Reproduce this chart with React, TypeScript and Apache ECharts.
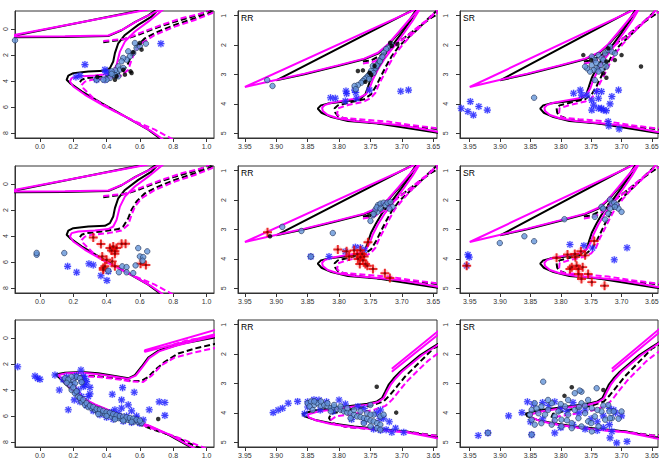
import React, { useEffect, useRef } from "react";
import * as echarts from "echarts";

type P = [number, number];

// ---------- Axis ticks ----------
const colorTicks = [0, 0.2, 0.4, 0.6, 0.8, 1.0];
const magTicks = [0, 2, 4, 6, 8];
const teffTicks = [3.95, 3.9, 3.85, 3.8, 3.75, 3.7, 3.65];
const loggTicks = [1, 2, 3, 4, 5];
const panelLabels = ["", "RR", "SR", "", "RR", "SR", "", "RR", "SR"];

// ---------- Isochrones: colour-magnitude (rows 1-2) ----------
const blackSolidA: P[] = [[0.73,8.5],[0.65,7.74],[0.51,6.72],[0.37,5.70],[0.25,4.80],[0.18,4.16],[0.16,3.91],[0.17,3.58],[0.20,3.40],[0.29,3.27],[0.39,3.22],[0.42,3.01],[0.44,2.50],[0.45,1.86],[0.47,1.10],[0.51,0.46],[0.59,-0.31],[0.67,-0.95],[0.71,-1.5]];
const blackHbA: P[] = [[0.63,-1.5],[-0.2,0.63],[0.15,0.62],[0.41,0.55],[0.49,0.10],[0.57,-0.52],[0.65,-1.05],[0.70,-1.5]];
const blackDashedA: P[] = [[0.24,4.09],[0.25,3.9],[0.28,3.78],[0.37,3.65],[0.47,3.47],[0.50,3.27],[0.53,2.63],[0.55,1.99],[0.58,1.35],[0.63,0.72],[0.71,0.20],[0.81,-0.31],[0.93,-0.82],[1.01,-1.2],[1.06,-1.5]];
const blackDashedHbA: P[] = [[0.38,1.02],[0.49,0.84],[0.59,0.46],[0.69,-0.05],[0.81,-0.56],[0.95,-1.07],[1.03,-1.5]];
const magentaSolidA: P[] = [[0.74,8.5],[0.67,7.87],[0.53,6.85],[0.39,5.95],[0.27,5.06],[0.20,4.42],[0.18,4.04],[0.19,3.78],[0.23,3.65],[0.33,3.58],[0.41,3.47],[0.44,3.27],[0.46,2.76],[0.48,1.74],[0.51,0.97],[0.57,0.20],[0.65,-0.56],[0.74,-1.5]];
const magentaHbA: P[] = [[0.65,-1.5],[-0.2,0.58],[0.15,0.57],[0.41,0.50],[0.495,0.05],[0.58,-0.58],[0.66,-1.1],[0.72,-1.5]];
const magentaDashedA: P[] = [[0.80,8.5],[0.69,7.74],[0.57,7.10],[0.45,6.33],[0.33,5.44],[0.26,4.55],[0.25,4.30],[0.27,4.05],[0.31,3.91],[0.41,3.78],[0.49,3.58],[0.53,3.14],[0.55,2.38],[0.57,1.74],[0.61,1.10],[0.69,0.46],[0.81,-0.18],[0.93,-0.69],[1.03,-1.2],[1.07,-1.5]];
const magentaDashedHbA: P[] = [[0.38,0.92],[0.51,0.77],[0.61,0.26],[0.73,-0.31],[0.85,-0.82],[0.97,-1.2],[1.02,-1.5]];

// ---------- Isochrones: Teff-logg (rows 1-2) ----------
const blackSolidB: P[] = [[3.63,5.0],[3.643,4.98],[3.738,4.67],[3.786,4.58],[3.812,4.45],[3.828,4.30],[3.834,4.16],[3.829,4.05],[3.818,3.99],[3.791,3.92],[3.767,3.84],[3.758,3.67],[3.754,3.43],[3.749,3.11],[3.741,2.79],[3.731,2.43],[3.717,2.06],[3.701,1.61],[3.686,1.16],[3.676,0.8]];
const blackHbB: P[] = [[3.682,0.8],[3.900,3.20],[3.855,2.99],[3.802,2.71],[3.760,2.48],[3.738,2.29],[3.722,2.0],[3.706,1.62],[3.690,1.22],[3.677,0.8]];
const blackDashedB: P[] = [[3.63,4.88],[3.69,4.76],[3.75,4.64],[3.786,4.53],[3.802,4.41],[3.806,4.30],[3.807,4.15],[3.802,4.05],[3.781,3.94],[3.760,3.84],[3.749,3.67],[3.741,3.39],[3.733,3.05],[3.725,2.71],[3.716,2.37],[3.704,2.03],[3.690,1.75],[3.675,1.46],[3.659,1.12],[3.643,0.8]];
const blackDashedHbB: P[] = [[3.762,2.56],[3.749,2.52],[3.733,2.34],[3.717,2.06],[3.696,1.75],[3.675,1.41],[3.653,1.07],[3.636,0.85]];
const magentaSolidB: P[] = [[3.63,4.97],[3.643,4.944],[3.664,4.865],[3.685,4.786],[3.706,4.718],[3.738,4.65],[3.775,4.58],[3.802,4.49],[3.818,4.38],[3.826,4.24],[3.827,4.13],[3.823,4.04],[3.812,3.96],[3.791,3.88],[3.770,3.81],[3.757,3.67],[3.751,3.45],[3.746,3.16],[3.738,2.82],[3.728,2.48],[3.714,2.09],[3.698,1.63],[3.683,1.18],[3.672,0.8]];
const magentaHbB: P[] = [[3.680,0.8],[3.950,3.425],[3.908,3.22],[3.855,2.97],[3.802,2.69],[3.760,2.46],[3.738,2.26],[3.722,1.97],[3.706,1.58],[3.690,1.18],[3.674,0.8]];
const magentaDashedB: P[] = [[3.63,4.85],[3.643,4.83],[3.685,4.72],[3.722,4.60],[3.770,4.52],[3.797,4.47],[3.803,4.355],[3.802,4.15],[3.786,4.04],[3.760,3.92],[3.750,3.81],[3.742,3.62],[3.736,3.31],[3.728,2.99],[3.720,2.65],[3.711,2.31],[3.698,1.97],[3.685,1.66],[3.669,1.35],[3.653,1.01],[3.643,0.8]];
const magentaDashedHbB: P[] = [[3.762,2.63],[3.744,2.56],[3.728,2.35],[3.712,2.03],[3.690,1.66],[3.669,1.29],[3.648,0.95],[3.63,0.82]];

// ---------- Isochrones: colour-magnitude (row 3) ----------
const blackSolidC: P[] = [[0.92,8.5],[0.77,7.43],[0.65,6.74],[0.57,6.41],[0.45,5.78],[0.33,5.14],[0.25,4.63],[0.19,4.0],[0.13,3.23],[0.094,2.80],[0.15,2.67],[0.25,2.62],[0.35,2.72],[0.45,2.93],[0.53,3.10],[0.57,2.85],[0.61,2.21],[0.65,1.50],[0.71,0.99],[0.81,0.56],[0.93,0.18],[1.06,-0.22]];
const blackHbC: P[] = [[0.72,0.94],[0.85,0.45],[1.06,-0.05]];
const blackDashedC: P[] = [[0.97,8.5],[0.80,7.56],[0.64,6.85],[0.44,5.9],[0.32,5.2],[0.24,4.5],[0.20,3.7],[0.19,3.05],[0.25,2.9],[0.35,2.95],[0.45,3.1],[0.55,3.3],[0.61,3.3],[0.65,3.0],[0.69,2.47],[0.75,1.83],[0.83,1.20],[0.93,0.81],[1.06,0.43]];
const magentaSolidC: P[] = [[0.93,8.5],[0.78,7.45],[0.66,6.76],[0.57,6.38],[0.45,5.75],[0.33,5.10],[0.25,4.58],[0.19,3.95],[0.14,3.25],[0.11,2.85],[0.16,2.72],[0.25,2.68],[0.35,2.78],[0.45,2.98],[0.53,3.15],[0.575,2.9],[0.615,2.25],[0.655,1.55],[0.715,1.03],[0.815,0.6],[0.935,0.22],[1.06,-0.17]];
const magentaHbC: P[] = [[1.06,-0.65],[0.63,0.94],[0.63,1.07],[1.06,-0.32]];
const magentaDashedC: P[] = [[1.0,8.5],[0.81,7.56],[0.65,6.85],[0.45,5.9],[0.33,5.2],[0.25,4.5],[0.21,3.7],[0.20,3.1],[0.26,2.95],[0.35,3.0],[0.45,3.15],[0.55,3.35],[0.62,3.38],[0.67,2.9],[0.73,2.1],[0.81,1.5],[0.93,1.1],[1.06,0.75]];
const magentaDashedHbC: P[] = [[0.75,0.7],[0.88,0.2],[1.06,-0.2]];

// ---------- Isochrones: Teff-logg (row 3) ----------
const blackSolidD: P[] = [[3.63,4.86],[3.6476,4.82],[3.6923,4.63],[3.7343,4.55],[3.776,4.46],[3.813,4.35],[3.8395,4.23],[3.855,4.12],[3.858,4.03],[3.8395,3.92],[3.7975,3.81],[3.755,3.69],[3.7396,3.61],[3.7317,3.50],[3.7265,3.28],[3.7212,3.05],[3.7133,2.83],[3.7028,2.60],[3.687,2.32],[3.6712,2.04],[3.650,1.75],[3.63,1.5]];
const blackDashedD: P[] = [[3.63,4.78],[3.65,4.76],[3.70,4.62],[3.75,4.55],[3.79,4.47],[3.81,4.35],[3.816,4.18],[3.813,4.03],[3.787,3.90],[3.75,3.76],[3.729,3.61],[3.719,3.39],[3.708,3.11],[3.695,2.77],[3.679,2.43],[3.663,2.09],[3.65,1.81],[3.63,1.6]];
const magentaSolidD: P[] = [[3.63,4.9],[3.6476,4.85],[3.6923,4.66],[3.7343,4.58],[3.776,4.49],[3.813,4.38],[3.836,4.26],[3.848,4.15],[3.85,4.06],[3.835,3.96],[3.7975,3.84],[3.755,3.72],[3.738,3.63],[3.729,3.50],[3.724,3.28],[3.718,3.05],[3.710,2.83],[3.70,2.60],[3.684,2.32],[3.668,2.04],[3.647,1.75],[3.63,1.52]];
const magentaHbD: P[] = [[3.716,2.50],[3.63,1.01],[3.63,1.13],[3.716,2.60]];
const magentaDashedD: P[] = [[3.63,4.80],[3.6476,4.77],[3.69,4.66],[3.74,4.57],[3.787,4.48],[3.807,4.39],[3.813,4.24],[3.805,4.12],[3.776,4.03],[3.745,3.90],[3.726,3.76],[3.715,3.54],[3.704,3.24],[3.691,2.91],[3.675,2.57],[3.659,2.24],[3.648,2.06],[3.63,1.8]];

// ---------- Stars: row 1 ----------
const circ11: P[] = [[-0.15,0.87],[0.57,1.08],[0.58,1.46],[0.60,1.33],[0.636,1.13],[0.56,1.85],[0.53,1.72],[0.54,2.10],[0.52,2.36],[0.50,2.23],[0.49,2.49],[0.47,2.87],[0.48,3.13],[0.50,3.0],[0.46,3.38],[0.45,3.18],[0.47,3.64],[0.44,3.51],[0.42,3.77],[0.40,3.9],[0.38,3.9],[0.34,3.9],[0.43,3.26],[0.45,3.55],[0.43,3.45]];
const black11: P[] = [[0.60,1.08],[0.61,1.59],[0.56,1.80],[0.50,3.13],[0.51,3.51],[0.544,3.26],[0.55,3.38],[0.46,3.64],[0.45,3.9],[0.344,3.69]];
const ast11: P[] = [[0.726,1.13],[0.27,2.74],[0.216,3.69],[0.24,3.59],[0.39,3.13],[0.396,3.33],[0.42,3.38],[0.44,3.44],[0.34,3.9],[0.39,3.9]];

const circ12: P[] = [[3.9145,3.19],[3.906,3.39],[3.717,1.97],[3.7223,2.09],[3.7251,2.14],[3.7288,2.26],[3.7339,2.48],[3.7367,2.60],[3.7383,2.65],[3.7411,2.77],[3.7435,2.82],[3.7462,2.71],[3.749,2.88],[3.7515,2.99],[3.754,3.05],[3.7567,3.11],[3.7594,3.16],[3.7621,3.22],[3.7647,3.28],[3.770,3.36],[3.7753,3.39],[3.7734,3.50],[3.735,2.55],[3.74,2.70],[3.745,2.95],[3.731,2.40],[3.752,3.15]];
const black12: P[] = [[3.770,2.88],[3.762,2.86],[3.7515,2.94],[3.749,3.0],[3.7435,2.71],[3.7186,1.92],[3.707,1.97],[3.716,2.03],[3.758,3.25]];
const ast12: P[] = [[3.8136,3.79],[3.806,3.81],[3.789,3.56],[3.788,3.65],[3.7753,3.53],[3.7734,3.61],[3.772,3.81],[3.790,3.90],[3.7515,3.53],[3.7018,3.57],[3.6894,3.53]];

const circ13: P[] = [[3.844,3.79],[3.749,2.39],[3.744,2.51],[3.738,2.34],[3.733,2.45],[3.727,2.28],[3.722,2.17],[3.716,2.22],[3.711,2.28],[3.719,2.05],[3.727,2.62],[3.735,2.68],[3.741,2.79],[3.746,2.85],[3.752,2.90],[3.757,2.79],[3.76,2.73],[3.749,2.68],[3.744,3.19],[3.733,2.85],[3.725,2.73],[3.738,2.9],[3.73,2.5],[3.742,2.6]];
const black13: P[] = [[3.763,2.34],[3.75,2.51],[3.722,2.11],[3.725,2.56],[3.711,2.51],[3.70,2.34],[3.668,2.73],[3.725,3.11],[3.73,2.96]];
const ast13: P[] = [[3.964,4.15],[3.949,3.92],[3.953,4.26],[3.944,4.38],[3.935,4.09],[3.921,4.21],[3.779,3.64],[3.768,3.53],[3.766,3.70],[3.757,3.70],[3.749,3.87],[3.741,3.58],[3.738,3.81],[3.733,3.58],[3.705,3.53],[3.716,3.75],[3.746,4.04],[3.738,4.15],[3.733,4.15],[3.73,4.21],[3.725,4.23],[3.719,4.0],[3.749,4.21],[3.722,4.60],[3.721,4.75],[3.704,4.85]];

// ---------- Stars: row 2 ----------
const circ21: P[] = [[-0.02,5.44],[-0.02,5.3],[0.146,5.31],[0.59,4.93],[0.644,5.18],[0.60,5.57],[0.62,5.62],[0.616,5.90],[0.574,6.26],[0.494,6.33],[0.52,6.39],[0.52,6.79],[0.474,6.79],[0.56,6.85],[0.41,6.67]];
const cross21: P[] = [[0.32,4.11],[0.366,4.62],[0.42,4.93],[0.44,4.80],[0.43,5.11],[0.45,5.18],[0.46,4.93],[0.49,4.60],[0.514,4.60],[0.374,5.57],[0.40,5.82],[0.434,5.95],[0.45,6.33],[0.39,6.33],[0.38,6.59],[0.604,6.13],[0.636,6.23],[0.45,5.36],[0.38,6.45]];
const ast21: P[] = [[0.166,6.33],[0.22,6.79],[0.294,6.13],[0.32,6.23],[0.366,7.05],[0.41,6.72],[0.402,7.41]];

const circ22: P[] = [[3.8905,2.91],[3.860,3.05],[3.81,3.12],[3.75,2.71],[3.746,2.52],[3.739,2.40],[3.738,2.17],[3.734,2.12],[3.729,2.09],[3.726,2.17],[3.723,2.09],[3.718,2.06],[3.742,2.32],[3.74,2.25],[3.745,2.47],[3.715,2.23],[3.734,2.29],[3.72,2.29],[3.845,3.92]];
const black22: P[] = [[3.91,3.23],[3.752,2.52]];
const cross22: P[] = [[3.914,3.09],[3.802,3.68],[3.788,3.74],[3.784,3.92],[3.776,3.71],[3.771,3.83],[3.77,4.0],[3.766,3.94],[3.762,4.05],[3.76,3.92],[3.763,3.83],[3.767,4.17],[3.758,4.17],[3.754,3.43],[3.746,4.34],[3.755,4.23],[3.727,4.49],[3.719,4.65],[3.766,3.71]];
const ast22: P[] = [[3.816,3.92],[3.79,3.75],[3.774,3.60],[3.766,3.62],[3.76,3.71],[3.845,3.92]];

const circ23: P[] = [[3.9005,3.46],[3.860,3.23],[3.844,3.40],[3.794,2.65],[3.744,2.57],[3.733,2.23],[3.73,2.29],[3.719,1.98],[3.716,2.12],[3.712,2.09],[3.708,2.17],[3.705,2.29],[3.70,2.40],[3.719,2.29],[3.722,2.46],[3.727,2.66],[3.711,2.23]];
const cross23: P[] = [[3.955,4.23],[3.807,3.96],[3.789,3.85],[3.777,3.83],[3.767,3.74],[3.76,3.88],[3.745,3.39],[3.785,4.34],[3.782,4.28],[3.774,4.23],[3.771,4.34],[3.764,4.28],[3.771,4.51],[3.766,4.68],[3.755,4.51],[3.749,4.79],[3.728,4.91],[3.776,3.94]];
const ast23: P[] = [[3.953,3.86],[3.951,3.94],[3.955,4.23],[3.785,3.51],[3.762,3.55],[3.748,3.63],[3.712,4.03],[3.691,3.62]];

// ---------- Stars: row 3 ----------
const circ31: P[] = [[0.15,3.10],[0.17,3.36],[0.18,3.61],[0.19,4.0],[0.21,4.25],[0.23,4.50],[0.25,4.89],[0.27,5.14],[0.29,5.32],[0.31,5.39],[0.33,5.52],[0.35,5.65],[0.37,5.78],[0.39,5.83],[0.41,5.90],[0.43,6.03],[0.45,6.08],[0.47,6.16],[0.49,6.21],[0.51,6.29],[0.53,6.29],[0.55,6.34],[0.57,6.41],[0.59,6.46],[0.61,6.54],[0.20,3.23],[0.21,3.49],[0.22,2.98],[0.19,2.98],[0.17,3.2],[0.16,3.45],[0.2,3.8],[0.22,4.1],[0.24,4.6],[0.26,4.75],[0.28,5.0],[0.3,5.2],[0.32,5.3],[0.34,5.45],[0.36,5.5],[0.38,5.6],[0.40,5.7],[0.42,5.75],[0.44,5.85],[0.46,5.95],[0.48,6.0],[0.50,6.05],[0.52,6.1],[0.54,6.15],[0.56,6.2],[0.58,6.28],[0.60,6.35],[0.35,5.85],[0.40,6.0],[0.45,6.25],[0.50,6.35],[0.55,6.45],[0.24,3.1],[0.25,3.4]];
const black31: P[] = [[0.71,6.23]];
const ast31: P[] = [[-0.134,2.21],[-0.03,2.93],[-0.014,3.10],[0,3.18],[0.09,2.85],[0.246,2.47],[0.116,4.0],[0.17,5.52],[0.206,4.76],[0.23,4.0],[0.26,3.74],[0.28,3.36],[0.27,3.10],[0.29,4.5],[0.434,4.33],[0.496,3.82],[0.566,4.17],[0.49,4.76],[0.53,5.14],[0.49,5.39],[0.45,5.52],[0.656,5.52],[0.716,4.91],[0.75,4.96],[0.75,5.95],[0.2,3.6],[0.22,4.2],[0.25,4.5],[0.28,5.2],[0.32,5.6],[0.36,5.9],[0.40,6.1],[0.44,6.25],[0.5,6.4],[0.55,6.5],[0.6,6.55],[0.62,6.3],[0.58,6.2],[0.52,6.0],[0.47,5.8],[0.16,3.0],[0.21,3.0],[0.25,3.3],[0.3,3.8],[0.3,4.3],[0.24,4.9],[0.27,3.6],[0.43,5.7],[0.55,5.6],[0.58,6.0],[0.14,3.2],[0.22,2.9],[0.26,2.95]];

const circ32: P[] = [[3.850,3.67],[3.8448,3.61],[3.8395,3.73],[3.8343,3.67],[3.829,3.76],[3.8238,3.73],[3.8185,3.78],[3.8132,3.84],[3.808,3.81],[3.8027,3.87],[3.7975,3.90],[3.7922,3.95],[3.787,3.99],[3.7817,4.01],[3.7764,4.06],[3.7712,4.12],[3.7659,4.14],[3.7606,4.18],[3.7554,4.21],[3.75,4.26],[3.7449,4.29],[3.7396,4.35],[3.7343,4.40],[3.7449,4.06],[3.7554,4.01],[3.7659,3.95],[3.7764,3.90],[3.787,3.84],[3.7975,3.78],[3.808,3.73],[3.8185,3.67],[3.829,3.61],[3.8395,3.61],[3.8132,3.95],[3.7817,4.18],[3.7606,4.35],[3.75,4.46],[3.7396,4.52],[3.7343,4.57],[3.75,3.73],[3.847,3.78],[3.842,3.90],[3.7343,4.12],[3.729,4.06],[3.75,4.06]];
const black32: P[] = [[3.74,3.11],[3.709,3.99]];
const ast32: P[] = [[3.905,3.99],[3.897,3.90],[3.89,3.84],[3.881,3.67],[3.866,3.61],[3.855,4.03],[3.832,3.56],[3.80,3.56],[3.734,3.90],[3.729,4.18],[3.716,4.66],[3.71,4.52],[3.697,4.66],[3.725,4.57],[3.734,4.59],[3.745,4.55],[3.85,3.62],[3.84,3.55],[3.82,3.62],[3.79,3.70],[3.77,3.78],[3.76,3.85],[3.74,4.0],[3.72,4.3],[3.735,4.2],[3.76,4.3],[3.78,4.22],[3.85,3.8],[3.83,3.9],[3.81,3.95]];

const circ33: P[] = [[3.829,2.94],[3.92,4.68],[3.848,4.74],[3.741,3.16],[3.766,3.28],[3.769,3.24],[3.777,3.33],[3.848,3.90],[3.843,3.67],[3.837,4.01],[3.832,3.78],[3.826,4.06],[3.821,3.90],[3.815,3.67],[3.81,4.12],[3.804,3.95],[3.799,4.23],[3.793,3.78],[3.788,4.06],[3.782,4.35],[3.777,3.90],[3.771,4.18],[3.766,3.67],[3.76,4.01],[3.755,4.29],[3.749,3.84],[3.744,4.12],[3.738,4.46],[3.733,3.95],[3.727,4.23],[3.722,3.73],[3.716,4.18],[3.848,4.23],[3.851,4.06],[3.843,4.40],[3.832,4.35],[3.815,4.40],[3.799,4.46],[3.782,4.52],[3.766,4.46],[3.749,4.63],[3.788,3.56],[3.755,3.56],[3.821,3.56],[3.84,3.85],[3.80,3.70],[3.77,3.80],[3.76,3.75],[3.74,3.90],[3.73,3.75],[3.72,3.95],[3.75,4.35],[3.79,4.25],[3.81,4.25],[3.70,3.95],[3.705,4.2],[3.719,4.18],[3.713,3.95]];
const black33: P[] = [[3.794,3.42],[3.782,3.13],[3.73,3.22]];
const ast33: P[] = [[3.936,4.77],[3.886,4.10],[3.864,3.99],[3.81,4.68],[3.719,4.85],[3.708,5.02],[3.691,4.97],[3.716,4.63],[3.92,4.68],[3.855,3.62],[3.845,3.70],[3.83,3.65],[3.82,3.75],[3.81,3.62],[3.80,3.85],[3.79,3.95],[3.78,3.65],[3.77,4.0],[3.76,3.9],[3.75,4.2],[3.74,4.3],[3.73,4.1],[3.72,3.85],[3.71,4.0],[3.70,4.1],[3.713,3.9],[3.76,4.55],[3.74,4.6],[3.78,4.4],[3.83,4.2],[3.85,4.3],[3.848,4.74],[3.72,4.4],[3.73,4.5],[3.80,4.5]];

// ---------- Layout ----------
const colLeft = [15, 238, 460];
const colWidth = [199, 199, 198];
const rowTop = [11, 166, 320];
const rowHeight = 127;

const ASTER = "path://M4.2 0L5.8 0L5.8 10L4.2 10Z M0 4.2L10 4.2L10 5.8L0 5.8Z M1.8 0.6L9.4 8.2L8.2 9.4L0.6 1.8Z M8.2 0.6L9.4 1.8L1.8 9.4L0.6 8.2Z";
const PLUS = "path://M3.9 0L6.1 0L6.1 3.9L10 3.9L10 6.1L6.1 6.1L6.1 10L3.9 10L3.9 6.1L0 6.1L0 3.9L3.9 3.9Z";
const FONT = "Liberation Sans, Arial, sans-serif";

type Iso = { bs: P[]; bh: P[]; bd: P[]; bdh: P[]; ms: P[]; mh: P[]; md: P[]; mdh: P[] };
const isoA: Iso = { bs: blackSolidA, bh: blackHbA, bd: blackDashedA, bdh: blackDashedHbA, ms: magentaSolidA, mh: magentaHbA, md: magentaDashedA, mdh: magentaDashedHbA };
const isoB: Iso = { bs: blackSolidB, bh: blackHbB, bd: blackDashedB, bdh: blackDashedHbB, ms: magentaSolidB, mh: magentaHbB, md: magentaDashedB, mdh: magentaDashedHbB };
const isoC: Iso = { bs: blackSolidC, bh: blackHbC, bd: blackDashedC, bdh: [], ms: magentaSolidC, mh: magentaHbC, md: magentaDashedC, mdh: magentaDashedHbC };
const isoD: Iso = { bs: blackSolidD, bh: [], bd: blackDashedD, bdh: [], ms: magentaSolidD, mh: magentaHbD, md: magentaDashedD, mdh: [] };

type Panel = { iso: Iso; circ: P[]; black: P[]; ast: P[]; cross: P[] };
const panels: Panel[] = [
  { iso: isoA, circ: circ11, black: black11, ast: ast11, cross: [] },
  { iso: isoB, circ: circ12, black: black12, ast: ast12, cross: [] },
  { iso: isoB, circ: circ13, black: black13, ast: ast13, cross: [] },
  { iso: isoA, circ: circ21, black: [], ast: ast21, cross: cross21 },
  { iso: isoB, circ: circ22, black: black22, ast: ast22, cross: cross22 },
  { iso: isoB, circ: circ23, black: [], ast: ast23, cross: cross23 },
  { iso: isoC, circ: circ31, black: black31, ast: ast31, cross: [] },
  { iso: isoD, circ: circ32, black: black32, ast: ast32, cross: [] },
  { iso: isoD, circ: circ33, black: black33, ast: ast33, cross: [] },
];

function buildOption() {
  const grid: any[] = [];
  const xAxis: any[] = [];
  const yAxis: any[] = [];
  const series: any[] = [];
  const graphic: any[] = [];

  panels.forEach((p, i) => {
    const row = Math.floor(i / 3);
    const col = i % 3;
    grid.push({
      left: colLeft[col], top: rowTop[row], width: colWidth[col], height: rowHeight,
      show: true, borderColor: "#333", borderWidth: 1, backgroundColor: "transparent",
    });
    const isCmd = col === 0;
    const xr = isCmd ? [-0.15, 1.045] : col === 1 ? [3.644, 3.961] : [3.640, 3.966];
    const yr = isCmd ? [-1.38, 8.38] : [0.84, 5.16];
    const xt = isCmd ? colorTicks : teffTicks;
    const yt = isCmd ? magTicks : loggTicks;
    xAxis.push({
      gridIndex: i, type: "value", min: xr[0], max: xr[1], inverse: !isCmd,
      axisLine: { show: true, onZero: false, lineStyle: { color: "#333", width: 1 } },
      axisTick: { show: true, customValues: xt, length: 4, lineStyle: { color: "#333" } },
      axisLabel: {
        customValues: xt, fontSize: 7, color: "#333", margin: 5, fontFamily: FONT,
        formatter: (v: number) => (isCmd ? v.toFixed(1) : v.toFixed(2)),
      },
      splitLine: { show: false },
    });
    yAxis.push({
      gridIndex: i, type: "value", min: yr[0], max: yr[1], inverse: true,
      axisLine: { show: true, onZero: false, lineStyle: { color: "#333", width: 1 } },
      axisTick: { show: true, customValues: yt, length: 4, lineStyle: { color: "#333" } },
      axisLabel: {
        customValues: yt, fontSize: 7, color: "#333", rotate: 90, margin: isCmd ? 6 : 11, fontFamily: FONT,
        formatter: (v: number) => String(v),
      },
      splitLine: { show: false },
    });

    const line = (data: P[], color: string, dashed: boolean) => {
      if (!data.length) return;
      series.push({
        type: "line", xAxisIndex: i, yAxisIndex: i, data, showSymbol: false, symbol: "none",
        lineStyle: { color, width: 2, type: dashed ? [6, 3] : "solid" }, silent: true, clip: true, z: 2,
      });
    };
    const iso = p.iso;
    line(iso.bs, "#000000", false);
    line(iso.bh, "#000000", false);
    line(iso.bd, "#000000", true);
    line(iso.bdh, "#000000", true);
    line(iso.ms, "#ff00ff", false);
    line(iso.mh, "#ff00ff", false);
    line(iso.md, "#ff00ff", true);
    line(iso.mdh, "#ff00ff", true);

    const sc = (data: P[], symbol: string, size: number, itemStyle: any, z: number) => {
      if (!data.length) return;
      series.push({ type: "scatter", xAxisIndex: i, yAxisIndex: i, data, symbol, symbolSize: size, itemStyle, silent: true, clip: true, z });
    };
    sc(p.ast, "circle", 7.5, { color: "rgba(140,150,255,0.45)" }, 3);
    sc(p.ast, ASTER, 7, { color: "#1a1aff" }, 4);
    sc(p.cross, "circle", 8, { color: "rgba(255,120,120,0.35)" }, 5);
    sc(p.cross, PLUS, 9, { color: "#e60000" }, 6);
    sc(p.cross, "circle", 2.5, { color: "#6a0000" }, 7);
    sc(p.circ, "circle", 5.5, { color: "#6495d8", borderColor: "#1f2f55", borderWidth: 0.8 }, 8);
    sc(p.black, "circle", 4.5, { color: "#000000" }, 9);

    if (panelLabels[i]) {
      graphic.push({
        type: "text", left: colLeft[col] + 3, top: rowTop[row] + 2, z: 100,
        style: { text: panelLabels[i], fontSize: 8.5, fill: "#000", fontFamily: FONT },
      });
    }
  });

  return { animation: false, backgroundColor: "#ffffff", grid, xAxis, yAxis, series, graphic };
}

export default function App() {
  const ref = useRef<HTMLDivElement>(null);
  useEffect(() => {
    const chart = echarts.init(ref.current!, null, { renderer: "svg" });
    chart.setOption(buildOption());
    return () => chart.dispose();
  }, []);
  return (
    <div
      ref={ref}
      style={{ position: "absolute", left: 0, top: 0, width: 667, height: 463, background: "#fff" }}
    />
  );
}
